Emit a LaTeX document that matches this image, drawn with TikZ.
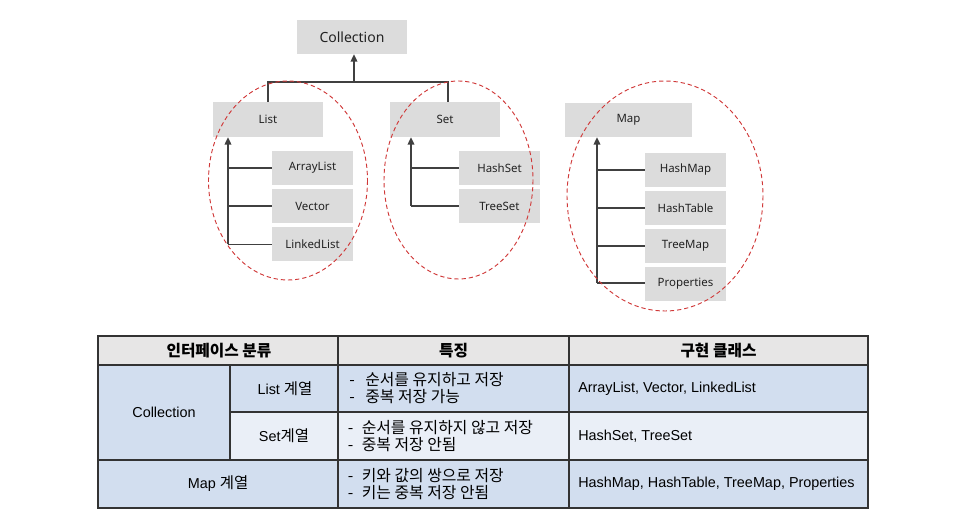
\documentclass[tikz,border=0pt]{standalone}
\usepackage{fontspec}
\setmainfont{Noto Sans}
\newfontfamily\cjk{Noto Sans CJK KR}
\newfontfamily\arial{Liberation Sans}
\usetikzlibrary{arrows.meta}
\definecolor{boxgray}{HTML}{DCDCDC}
\definecolor{hdrgray}{HTML}{E7E6E6}
\definecolor{blueA}{HTML}{D2DEEF}
\definecolor{blueB}{HTML}{EAEFF7}
\definecolor{ellred}{HTML}{D03838}
\definecolor{linegray}{HTML}{404040}
\definecolor{txt}{HTML}{222222}
\tikzset{
  sz/.style 2 args={minimum width=#1*0.75pt, minimum height=#2*0.75pt},
  gbox/.style={fill=boxgray, inner sep=0pt, text=txt, font=\fontsize{8.6}{10}\selectfont},
  ln/.style={draw=linegray, line width=1pt},
  arr/.style={ln, -{Triangle[length=5.5pt,width=5pt]}},
  grp/.style={draw=ellred, dashed, dash pattern=on 3.2pt off 2.2pt, line width=0.7pt},
  tline/.style={draw=black!80, line width=1pt},
  ttext/.style={inner sep=0pt, text=black, font=\fontsize{10.8}{12.75}\selectfont},
  feat/.style={ttext, anchor=west, align=left, font=\cjk\fontsize{11.9}{12.75}\selectfont},
  hdr/.style={ttext, font=\cjk\bfseries\fontsize{11.8}{12.75}\selectfont},
  cls/.style={ttext, anchor=west, font=\arial\fontsize{10.8}{12.75}\selectfont},
}
\newcommand{\dsh}[1]{\makebox[#1][l]{-}}
\newcommand{\krm}[1]{{\cjk\fontsize{11.6}{12.75}\selectfont #1}}
\begin{document}
\begin{tikzpicture}[x=0.75pt,y=-0.75pt]
\useasboundingbox (0,0) rectangle (975,530);
% ---------- diagram ----------
\node[gbox, sz={110}{34}, font=\fontsize{10.5}{12}\selectfont] (coll) at (352,37) {Collection};
\node[gbox, sz={110}{35}] (list) at (268,119.5) {List};
\node[gbox, sz={110}{35}] (set) at (445,119.5) {Set};
\node[gbox, sz={127}{34}] (map) at (628.5,120) {Map};
\node[gbox, sz={81}{34}] (al) at (312.5,168) {ArrayList};
\node[gbox, sz={81}{34}] (vec) at (312.5,206) {Vector};
\node[gbox, sz={81}{34}] (ll) at (312.5,244.5) {LinkedList};
\node[gbox, sz={81}{34}] (hs) at (499.5,168) {HashSet};
\node[gbox, sz={81}{34}] (ts) at (499.5,206) {TreeSet};
\node[gbox, sz={81}{34}] (hm) at (685.5,170) {HashMap};
\node[gbox, sz={81}{34}] (ht) at (685.5,208) {HashTable};
\node[gbox, sz={81}{34}] (tm) at (685.5,246) {TreeMap};
\node[gbox, sz={81}{34}] (pr) at (685.5,284) {Properties};
% Collection connectors
\coordinate (j) at (354,82);
\draw[arr] (j) -- (j |- coll.south);
\draw[ln] (list.north) |- (j) -| ([xshift=2.25pt]set.north);
% List
\coordinate (lb) at (228,244.5);
\draw[arr] (lb) -- (lb |- list.south);
\draw[ln] (lb |- al.west) -- (al.west);
\draw[ln] (lb |- vec.west) -- (vec.west);
\draw[ln] (lb) -- (ll.west);
% Set
\coordinate (sb) at (411,206);
\draw[arr] (sb) -- (sb |- set.south);
\draw[ln] (sb |- hs.west) -- (hs.west);
\draw[ln] (sb) -- (ts.west);
% Map
\coordinate (mb) at (597,283);
\draw[arr] (mb) -- (mb |- map.south);
\draw[ln] (mb |- hm.west) -- (hm.west);
\draw[ln] (mb |- ht.west) -- (ht.west);
\draw[ln] (mb |- tm.west) -- (tm.west);
\draw[ln] (mb) -- (mb -| pr.west);
% group ellipses
\draw[grp] (288,180.5) ellipse [x radius=79.5, y radius=99.5];
\draw[grp] (458.5,180) ellipse [x radius=74.5, y radius=99];
\draw[grp] (665,196) ellipse [x radius=98, y radius=115];
% ---------- table ----------
\fill[hdrgray] (98,336) rectangle (868,365);
\fill[blueA] (98,365) rectangle (868,412);
\fill[blueA] (98,412) rectangle (230,460);
\fill[blueB] (230,412) rectangle (868,460);
\fill[blueA] (98,460) rectangle (868,508);
\draw[tline] (98,336) rectangle (868,508);
\draw[tline] (98,365) -- (868,365);
\draw[tline] (230,412) -- (868,412);
\draw[tline] (98,460) -- (868,460);
\draw[tline] (230,365) -- (230,460);
\draw[tline] (338,336) -- (338,508);
\draw[tline] (569,336) -- (569,508);
% header
\node[hdr] (h1) at (219,351) {인터페이스 분류};
\node[hdr] (h2) at (453.5,351) {특징};
\node[hdr] (h3) at (718.5,351) {구현 클래스};
% first column
\node[ttext] (c1) at (164,412) {\arial Collection};
\node[ttext] (c2) at (285,389) {{\arial List }\krm{계열}};
\node[ttext] (c3) at (284,436) {{\arial Set}\krm{계열}};
\node[ttext] (c4) at (218,484) {{\arial Map }\krm{계열}};
% features
\node[feat] (f1) at (349,388) {\dsh{12pt}순서를 유지하고 저장\\\dsh{12pt}중복 저장 가능};
\node[feat] (f2) at (347.5,436) {\dsh{10.5pt}순서를 유지하지 않고 저장\\\dsh{10.5pt}중복 저장 안됨};
\node[feat] (f3) at (347.5,484) {\dsh{10.5pt}키와 값의 쌍으로 저장\\\dsh{10.5pt}키는 중복 저장 안됨};
% classes
\node[cls] (k1) at (578,389) {ArrayList, Vector, LinkedList};
\node[cls] (k2) at (578,436) {HashSet, TreeSet};
\node[cls] (k3) at (578,484) {HashMap, HashTable, TreeMap, Properties};
\end{tikzpicture}
\end{document}
